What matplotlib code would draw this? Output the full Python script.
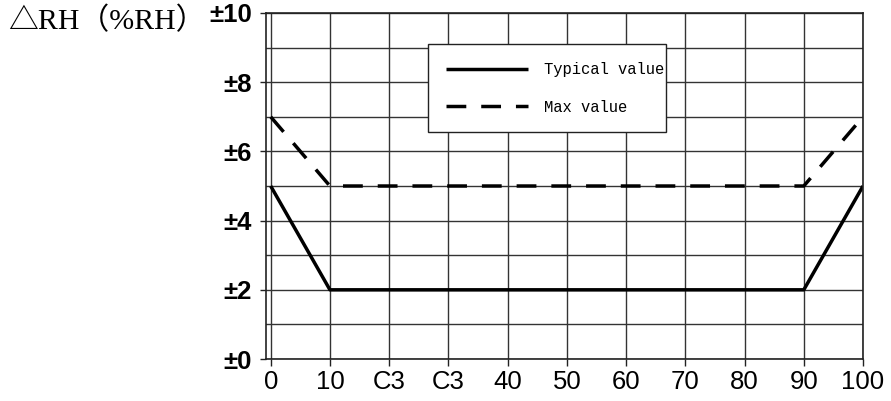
import matplotlib
matplotlib.use('Agg')
import matplotlib.pyplot as plt

# data
x_pts = [0, 10, 90, 100]
typical = [5, 2, 2, 5]
max_val = [7, 5, 5, 7]
x_ticks = [0, 10, 20, 30, 40, 50, 60, 70, 80, 90, 100]
x_labels = ['0', '10', 'C3', 'C3', '40', '50', '60', '70', '80', '90', '100']
y_ticks = [0, 2, 4, 6, 8, 10]
y_labels = ['±0', '±2', '±4', '±6', '±8', '±10']
y_minor = [1, 3, 5, 7, 9]

fig = plt.figure(figsize=(8.91, 4.01), dpi=100)
ax = fig.add_axes([0.2985, 0.1047, 0.6701, 0.8629])

ax.plot(x_pts, typical, color='black', lw=2.5, solid_capstyle='butt',
        label='Typical value')
ax.plot(x_pts, max_val, color='black', lw=2.5, linestyle=(0, (5.7, 4.3)),
        label='Max value')

ax.set_xlim(-0.8, 100)
ax.set_ylim(0, 10)
ax.set_xticks(x_ticks)
ax.set_xticklabels(x_labels, fontsize=18.5, family='Liberation Sans')
ax.set_yticks(y_ticks)
ax.set_yticks(y_minor, minor=True)
ax.set_yticklabels(y_labels, fontsize=18.5, fontweight='bold',
                   family='Liberation Sans')
ax.tick_params(axis='x', length=5, width=1, color='#222222', pad=3)
ax.tick_params(axis='y', which='major', length=4, width=1, color='#222222', pad=6)
ax.tick_params(axis='y', which='minor', length=0)
ax.grid(True, which='both', color='#333333', lw=1.0)
for s in ax.spines.values():
    s.set_color('#222222')
    s.set_linewidth(1.2)

leg = ax.legend(loc='upper left', bbox_to_anchor=(0.271, 0.650, 0.399, 0.26),
                mode='expand', fancybox=False, framealpha=1,
                edgecolor='#222222', handlelength=5.3, handletextpad=1.0,
                labelspacing=1.45, borderpad=1.15, borderaxespad=0,
                prop={'family': 'Liberation Mono', 'size': 11.2})
leg.get_frame().set_linewidth(1.0)

fig.text(8 / 891, 1 - 21 / 401, '△RH（%RH）', fontsize=21.5, va='center',
         ha='left', family=['Liberation Serif', 'Noto Sans CJK SC', 'DejaVu Sans'])

fig.savefig('out.png', dpi=100, facecolor='white')
